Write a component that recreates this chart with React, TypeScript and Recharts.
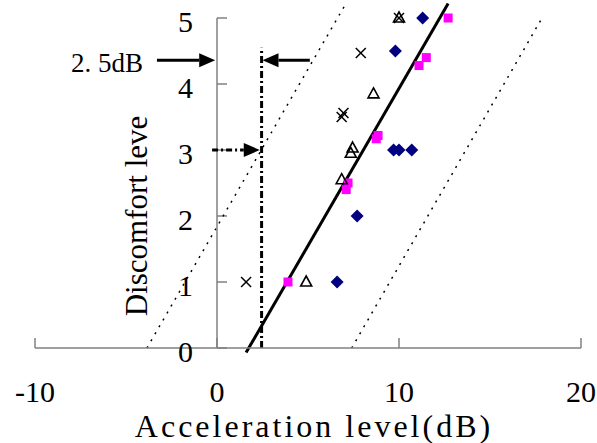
import React from 'react';
import { ScatterChart, Scatter, XAxis, YAxis, ReferenceLine, ReferenceDot } from 'recharts';

// axis ticks
const X_TICKS = [-10, 0, 10, 20];
const Y_TICKS = [0, 1, 2, 3, 4, 5];

// navy diamonds
const BLUE_X = [6.6, 7.7, 9.7, 10.0, 10.7, 9.8, 11.3];
const BLUE_Y = [1, 2, 3, 3, 3, 4.5, 5];

// magenta squares
const PINK_X = [3.9, 7.1, 7.2, 8.75, 8.85, 11.1, 11.5, 12.7];
const PINK_Y = [1, 2.4, 2.5, 3.17, 3.22, 4.28, 4.4, 5];

// open triangles
const TRI_X = [4.9, 6.85, 7.35, 7.45, 8.6, 10.0];
const TRI_Y = [1, 2.55, 2.95, 3.03, 3.85, 5];

// crosses
const CROSS_X = [1.6, 6.85, 6.95, 7.9, 10.0];
const CROSS_Y = [1, 3.5, 3.56, 4.47, 5];

// regression line and the two dotted bounds (x, y end points)
const FIT_X = [1.6, 12.7];
const FIT_Y = [-0.07, 5.22];
const LOWER_X = [-3.85, 7.0];
const LOWER_Y = [0, 5.18];
const UPPER_X = [7.4, 17.9];
const UPPER_Y = [0, 5.02];

// annotation: 2.5 dB read-off at discomfort level 3
const MARK_X = 2.45;
const MARK_TOP = 4.55;
const ARROW_Y = 4.36;
const LEFT_ARROW_X = [-3.3, -0.1];
const RIGHT_ARROW_X = [5.1, 2.5];
const LEVEL_ARROW_X = [-0.27, 2.35];
const LEVEL_Y = 3;

const FONT = '"Liberation Serif", "Times New Roman", serif';
const GRAY = '#808080';

const toPoints = (xs: number[], ys: number[]) => xs.map((x, i) => ({ x, y: ys[i] }));

const Diamond = (props: any) => {
  const { cx, cy } = props;
  const r = 6.5;
  return <polygon points={`${cx},${cy - r} ${cx + r},${cy} ${cx},${cy + r} ${cx - r},${cy}`} fill="#000080" />;
};

const Square = (props: any) => {
  const { cx, cy } = props;
  return <rect x={cx - 4.5} y={cy - 4.5} width={9} height={9} fill="#ff00ff" />;
};

const Triangle = (props: any) => {
  const { cx, cy } = props;
  return (
    <polygon
      points={`${cx},${cy - 6} ${cx + 5.5},${cy + 4} ${cx - 5.5},${cy + 4}`}
      fill="none"
      stroke="#000"
      strokeWidth={1.6}
    />
  );
};

const Cross = (props: any) => {
  const { cx, cy } = props;
  const r = 5;
  return (
    <g stroke="#000" strokeWidth={1.5}>
      <line x1={cx - r} y1={cy - r} x2={cx + r} y2={cy + r} />
      <line x1={cx - r} y1={cy + r} x2={cx + r} y2={cy - r} />
    </g>
  );
};

const arrowShape = (dash?: string) => (p: any) => {
  const { x1, y1, x2, y2 } = p;
  const a = Math.atan2(y2 - y1, x2 - x1);
  const len = 16;
  const half = 7;
  const bx = x2 - len * Math.cos(a);
  const by = y2 - len * Math.sin(a);
  const nx = -Math.sin(a) * half;
  const ny = Math.cos(a) * half;
  return (
    <g>
      <line x1={x1} y1={y1} x2={bx} y2={by} stroke="#000" strokeWidth={3} strokeDasharray={dash} />
      <polygon points={`${x2},${y2} ${bx + nx},${by + ny} ${bx - nx},${by - ny}`} fill="#000" />
    </g>
  );
};

const labelStyle = { fontFamily: FONT, fontSize: 30, fill: '#000' };

export default function App() {
  return (
    <div style={{ position: 'absolute', left: 0, top: 0, background: '#fff' }}>
      <ScatterChart width={597} height={443} margin={{ top: 18, right: 16, bottom: 0, left: 35 }}>
        <XAxis
          type="number"
          dataKey="x"
          domain={[-10, 20]}
          ticks={X_TICKS}
          height={95}
          tickSize={-10}
          tickMargin={43}
          axisLine={{ stroke: GRAY, strokeWidth: 1.5 }}
          tickLine={{ stroke: GRAY, strokeWidth: 1.5 }}
          tick={{ fill: '#000', fontSize: 30, fontFamily: FONT }}
          label={{
            value: 'Acceleration level(dB)',
            position: 'insideBottom',
            offset: 6,
            dx: 6,
            style: { ...labelStyle, fontSize: 32, letterSpacing: 3 },
          }}
        />
        <YAxis type="number" dataKey="y" domain={[0, 5]} hide />

        {/* y axis drawn at x = 0 */}
        <ReferenceLine
          segment={[{ x: 0, y: 0 }, { x: 0, y: 5 }]}
          stroke={GRAY}
          strokeWidth={1.5}
          ifOverflow="visible"
        />
        {Y_TICKS.map((t) => (
          <ReferenceLine
            key={`yt-${t}`}
            segment={[{ x: 0, y: t }, { x: 0.55, y: t }]}
            stroke={GRAY}
            strokeWidth={1.5}
            ifOverflow="visible"
            label={{ value: String(t), position: 'left', offset: 24, dy: 3, style: labelStyle }}
          />
        ))}
        <ReferenceDot
          x={-4.45}
          y={2}
          r={0}
          stroke="none"
          label={{ value: 'Discomfort leve', position: 'center', angle: -90, style: { ...labelStyle, fontSize: 31 } }}
        />

        {/* fit line and bounds */}
        <ReferenceLine
          segment={toPoints(FIT_X, FIT_Y)}
          stroke="#000"
          strokeWidth={3}
          ifOverflow="visible"
        />
        <ReferenceLine
          segment={toPoints(LOWER_X, LOWER_Y)}
          stroke="#000"
          strokeWidth={1.5}
          strokeDasharray="2 6"
          ifOverflow="visible"
        />
        <ReferenceLine
          segment={toPoints(UPPER_X, UPPER_Y)}
          stroke="#000"
          strokeWidth={1.5}
          strokeDasharray="2 6"
          ifOverflow="visible"
        />

        {/* 2.5 dB annotation */}
        <ReferenceLine
          segment={[{ x: MARK_X, y: 0 }, { x: MARK_X, y: MARK_TOP }]}
          stroke="#000"
          strokeWidth={3}
          strokeDasharray="7 3 2 3"
          ifOverflow="visible"
        />
        <ReferenceLine
          segment={[{ x: LEFT_ARROW_X[0], y: ARROW_Y }, { x: LEFT_ARROW_X[1], y: ARROW_Y }]}
          shape={arrowShape()}
          ifOverflow="visible"
        />
        <ReferenceLine
          segment={[{ x: RIGHT_ARROW_X[0], y: ARROW_Y }, { x: RIGHT_ARROW_X[1], y: ARROW_Y }]}
          shape={arrowShape()}
          ifOverflow="visible"
        />
        <ReferenceLine
          segment={[{ x: LEVEL_ARROW_X[0], y: LEVEL_Y }, { x: LEVEL_ARROW_X[1], y: LEVEL_Y }]}
          shape={arrowShape('6 3 2 3')}
          ifOverflow="visible"
        />
        <ReferenceDot
          x={-6.05}
          y={4.33}
          r={0}
          stroke="none"
          label={{ value: '2. 5dB', position: 'center', style: { ...labelStyle, fontSize: 27 } }}
        />

        <Scatter data={toPoints(BLUE_X, BLUE_Y)} shape={<Diamond />} isAnimationActive={false} />
        <Scatter data={toPoints(PINK_X, PINK_Y)} shape={<Square />} isAnimationActive={false} />
        <Scatter data={toPoints(TRI_X, TRI_Y)} shape={<Triangle />} isAnimationActive={false} />
        <Scatter data={toPoints(CROSS_X, CROSS_Y)} shape={<Cross />} isAnimationActive={false} />
      </ScatterChart>
    </div>
  );
}
